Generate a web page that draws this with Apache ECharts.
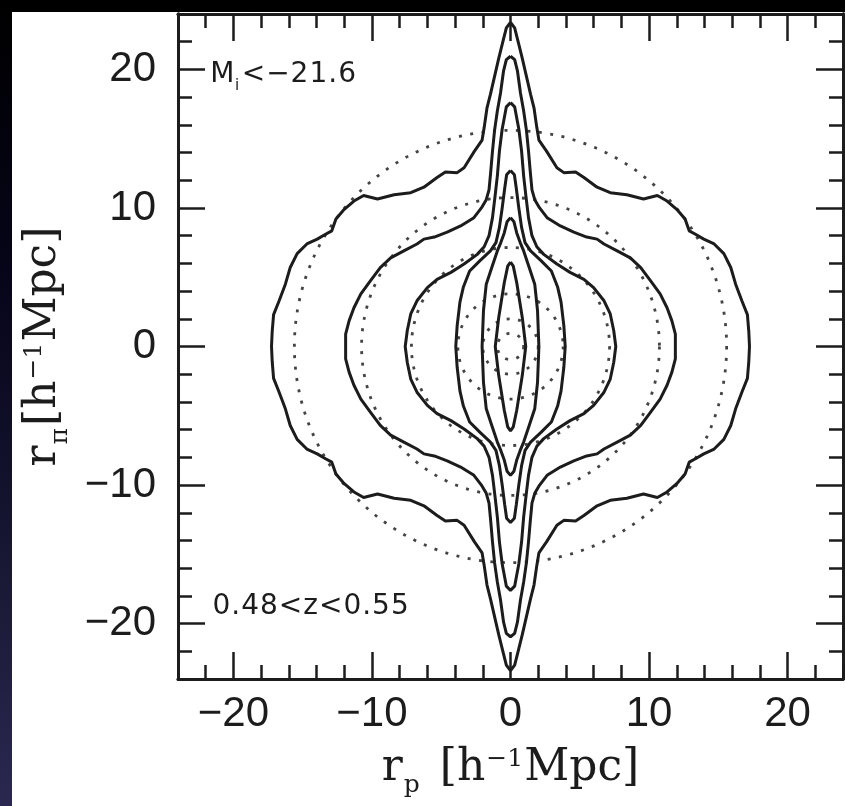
<!DOCTYPE html>
<html><head><meta charset="utf-8">
<script src="https://cdn.jsdelivr.net/npm/echarts@6/dist/echarts.min.js"></script>
<style>
html,body{margin:0;padding:0;width:845px;height:806px;overflow:hidden;}
body{background:linear-gradient(180deg,#000 0%,#06051a 35%,#1b1a38 75%,#2a2850 100%);}
#panel{position:absolute;left:12px;top:12px;width:833px;height:794px;background:#fff;}
#chart{position:absolute;left:0;top:0;width:845px;height:806px;}
</style></head><body><div id="panel"></div><div id="chart"></div>
<script>
// One quadrant (rp >= 0, rpi >= 0) of each measured contour, from the tip on the rpi axis to the rp axis.
const contour1 = [[0,23.4],[0.3,23.0],[0.55,22.0],[0.85,20.8],[1.15,19.5],[1.45,18.2],[1.7,17.2],[1.9,15.8],[2.05,14.9],[2.6,14.1],[3.35,12.9],[3.85,12.55],[4.7,12.6],[5.3,12.2],[6.25,11.5],[7.2,11.1],[8.4,10.95],[9.6,10.65],[10.6,10.9],[11.3,10.5],[12.0,9.9],[12.6,9.2],[12.9,8.35],[13.35,8.1],[13.95,7.75],[14.7,7.4],[15.4,6.7],[15.9,5.7],[16.25,4.5],[16.7,3.3],[17.1,2.3],[17.2,1.1],[17.25,0]];
const contour2 = [[0,20.95],[0.3,20.7],[0.5,19.9],[0.72,18.3],[0.95,17.0],[1.15,15.6],[1.3,14.1],[1.42,12.7],[1.55,11.3],[1.75,10.6],[2.1,10.0],[2.64,9.3],[3.6,8.7],[4.57,8.25],[5.5,7.9],[6.25,7.75],[6.75,7.4],[7.7,6.9],[8.65,6.4],[9.4,5.7],[10.1,4.75],[10.8,3.8],[11.3,2.8],[11.65,1.85],[11.9,0.9],[11.9,0]];
const contour3 = [[0,17.6],[0.3,17.3],[0.45,16.5],[0.6,15.7],[0.8,14.1],[0.95,12.3],[1.12,10.8],[1.3,9.3],[1.55,8.0],[1.9,7.2],[2.4,6.65],[3.35,5.95],[4.3,5.35],[5.3,4.85],[6.0,4.25],[6.75,3.3],[7.2,2.35],[7.45,1.15],[7.6,0]];
const contour4 = [[0,12.7],[0.28,12.4],[0.42,11.4],[0.6,10.0],[0.8,8.6],[1.05,7.5],[1.45,6.9],[2.2,6.2],[2.95,5.45],[3.4,4.3],[3.65,3.2],[3.85,1.5],[3.95,0]];
const contour5 = [[0,9.3],[0.25,9.0],[0.45,8.2],[0.7,7.5],[0.95,6.9],[1.35,5.7],[1.75,4.5],[1.95,2.6],[2.05,0]];
const contour6 = [[0,6.1],[0.2,5.8],[0.45,4.6],[0.85,2.1],[1.1,0]];
// Radii of the dotted (isotropic) contours.
const dottedRadii = [15.6, 10.75, 7.15, 3.8, 2.0, 0.95];
// Axes
const axisMin = -24, axisMax = 24, minorStep = 2;
const majorTicks = [-20, -10, 0, 10, 20];
const tickLabels = ['\u221220', '\u221210', '0', '10', '20'];
// Annotations: text and [rp, rpi] anchor
const annotTexts = ['M_i<\u221221.6', '0.48<z<0.55'];
const annotPos = [[-21.7, 19.45], [-21.55, -18.9]];

const INK = '#1c1c1c';
function mirror(q) {
  const ur = q.map(p => [p[0], p[1]]);
  const lr = q.slice().reverse().map(p => [p[0], -p[1]]);
  const ll = q.map(p => [-p[0], -p[1]]);
  const ul = q.slice().reverse().map(p => [-p[0], p[1]]);
  return ur.concat(lr.slice(1), ll.slice(1), ul.slice(1));
}
const lineStyle = {color: INK, width: 3};
function axis(kind, pos, major, extra) {
  const a = {
    type: 'value', min: axisMin, max: axisMax, position: pos,
    axisLine: {show: true, onZero: false, lineStyle: {color: INK, width: 2.8}},
    axisTick: {show: true, inside: true, length: major ? 27 : 14, lineStyle: {color: INK, width: 2.5}},
    axisLabel: {show: false},
    splitLine: {show: false}, minorTick: {show: false}, minorSplitLine: {show: false}
  };
  if (major) { a.axisTick.customValues = majorTicks; } else { a.interval = minorStep; }
  return Object.assign(a, extra || {});
}
const labelStyle = {show: true, customValues: majorTicks, color: INK, fontFamily: 'Liberation Sans', fontSize: 42,
  formatter: v => tickLabels[majorTicks.indexOf(v)]};
const serif = 'DejaVu Serif';
function nameRich(subRight) {
  return {
    m: {fontFamily: serif, fontSize: 44, lineHeight: 44, verticalAlign: 'top', color: INK},
    sb: {fontFamily: serif, fontSize: 25, lineHeight: 25, padding: [26, subRight, 0, 1], verticalAlign: 'top', color: INK},
    sp: {fontFamily: serif, fontSize: 25, lineHeight: 25, padding: [0, 1, 0, 1], verticalAlign: 'top', color: INK}
  };
}
const xAxes = [
  axis('x', 'bottom', false),
  axis('x', 'bottom', true, {axisLabel: Object.assign({margin: 14}, labelStyle),
    name: '{m|r}{sb|p}{m|[h}{sp|\u22121}{m|Mpc]}', nameLocation: 'middle', nameGap: 68,
    nameTextStyle: {color: INK, fontFamily: serif, fontSize: 44, rich: nameRich(20)}}),
  axis('x', 'top', false),
  axis('x', 'top', true)
];
const yAxes = [
  axis('y', 'left', false),
  axis('y', 'left', true, {axisLabel: Object.assign({margin: 22}, labelStyle),
    name: '{m|r}{sb|\u03c0}{m|[h}{sp|\u22121}{m|Mpc]}', nameLocation: 'middle', nameGap: 112, nameRotate: 90,
    nameTextStyle: {color: INK, fontFamily: serif, fontSize: 44, rich: nameRich(2)}}),
  axis('y', 'right', false),
  axis('y', 'right', true)
];
const annotRich = {
  n: {fontFamily: 'DejaVu Sans', fontSize: 28, lineHeight: 32, verticalAlign: 'top', padding: [0, 0.5, 0, 0.5], color: INK},
  s: {fontFamily: 'DejaVu Sans', fontSize: 15, lineHeight: 15, verticalAlign: 'top', padding: [18, 2, 0, 0], color: INK}
};
function richAnnot(t) {
  let out = '';
  for (let i = 0; i < t.length; i++) {
    if (t[i] === '_') { out += '{s|' + t[i + 1] + '}'; i++; }
    else out += '{n|' + t[i] + '}';
  }
  return out;
}
const contours = [contour1, contour2, contour3, contour4, contour5, contour6];
const series = [
  {type: 'custom', xAxisIndex: 0, yAxisIndex: 0, silent: true, z: 1,
    data: dottedRadii.map(r => [r]),
    renderItem: (params, api) => {
      const r = api.value(0);
      const c = api.coord([0, 0]);
      const s = api.size([r, r]);
      return {type: 'circle', shape: {cx: c[0], cy: c[1], r: (s[0] + s[1]) / 2},
        style: {fill: 'none', stroke: '#444', lineWidth: 2.8, lineDash: [3, 8.5]}};
    }}
].concat(contours.map(q => ({
  type: 'line', xAxisIndex: 0, yAxisIndex: 0, data: mirror(q), symbol: 'none', showSymbol: false,
  smooth: false, lineStyle: lineStyle, z: 3, silent: true, clip: true
}))).concat([{
  type: 'custom', xAxisIndex: 0, yAxisIndex: 0, silent: true, z: 4,
  data: annotPos,
  renderItem: (params, api) => {
    const c = api.coord([api.value(0), api.value(1)]);
    return {type: 'text', x: c[0], y: c[1],
      style: {text: richAnnot(annotTexts[params.dataIndex]), rich: annotRich, fill: INK,
        fontFamily: 'DejaVu Sans', fontSize: 28, align: 'left', verticalAlign: 'middle'}};
  }
}]);
const chart = echarts.init(document.getElementById('chart'), null, {renderer: 'canvas'});
chart.setOption({
  backgroundColor: 'transparent',
  animation: false,
  grid: {left: 178, top: 14, width: 665, height: 665, containLabel: false},
  xAxis: xAxes,
  yAxis: yAxes,
  series: series
});
</script></body></html>
